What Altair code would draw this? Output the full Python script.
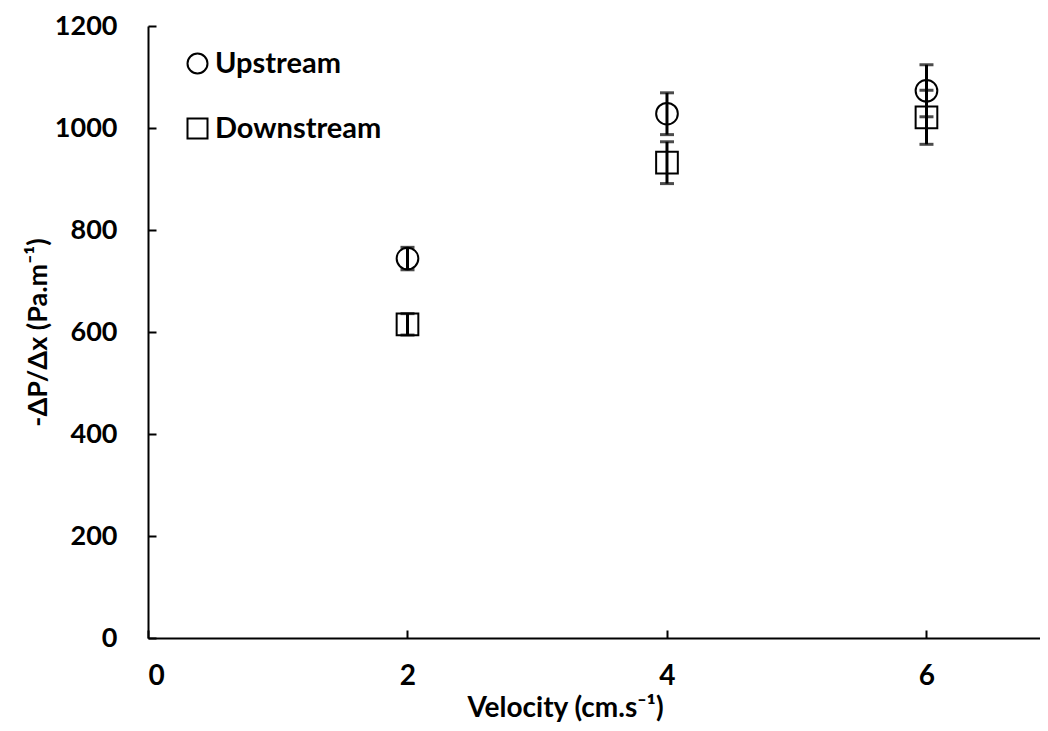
import altair as alt
import pandas as pd

velocity = [2, 4, 6]
upstream = [744, 1028, 1073]
upstream_err = [22, 41, 51]
downstream = [615, 932, 1021]
downstream_err = [21, 41, 53]
series_names = ["Upstream", "Downstream"]
x_ticks = [0, 2, 4, 6]
y_ticks = [0, 200, 400, 600, 800, 1000, 1200]

rows = []
for v, m, e in zip(velocity, upstream, upstream_err):
    rows.append({"v": v, "val": m, "lo": m - e, "hi": m + e, "series": "Upstream"})
for v, m, e in zip(velocity, downstream, downstream_err):
    rows.append({"v": v, "val": m, "lo": m - e, "hi": m + e, "series": "Downstream"})
df = pd.DataFrame(rows)

FONT = "Lato"
W, H = 892, 612
xscale = alt.Scale(domain=[0, 6.875], nice=False, zero=False)
yscale = alt.Scale(domain=[0, 1200], nice=False)

points = alt.Chart(df).mark_point(size=470, strokeWidth=2, filled=False, opacity=1).encode(
    x=alt.X("v:Q", scale=xscale,
            axis=alt.Axis(values=x_ticks, format="d", title="Velocity (cm.s⁻¹)", grid=False, ticks=False,
                          domainColor="black", domainWidth=2, labelFont=FONT, labelFontSize=28,
                          labelFontWeight="bold", labelColor="black", labelPadding=24,
                          titleFont=FONT, titleFontSize=28, titleFontWeight="bold",
                          titleColor="black", titleX=417, titleY=70, titleBaseline="middle")),
    y=alt.Y("val:Q", scale=yscale,
            axis=alt.Axis(values=y_ticks, format="d", title="-ΔP/Δx (Pa.m⁻¹)", grid=False, ticks=False,
                          domainColor="black", domainWidth=2, labelFont=FONT, labelFontSize=27,
                          labelFontWeight="bold", labelColor="black", labelPadding=31,
                          titleFont=FONT, titleFontSize=27, titleFontWeight="bold",
                          titleColor="black", titleX=-110, titleY=306, titleBaseline="middle")),
    shape=alt.Shape("series:N", scale=alt.Scale(domain=series_names, range=["circle", "square"]),
                    legend=alt.Legend(title=None, orient="none", legendX=35, legendY=23,
                                      symbolSize=400, symbolStrokeWidth=2,
                                      symbolStrokeColor="black", symbolFillColor="white",
                                      labelFont=FONT, labelFontSize=29, labelFontWeight="bold",
                                      labelColor="black", labelOffset=3, rowPadding=35,
                                      labelLimit=400, padding=0)),
    color=alt.value("black"),
)

bars = alt.Chart(df).mark_rule(strokeWidth=3, color="black").encode(
    x=alt.X("v:Q", scale=xscale, axis=None),
    y=alt.Y("lo:Q", scale=yscale, axis=None),
    y2="hi:Q",
)

caps = alt.Chart(df).transform_fold(["lo", "hi"], as_=["end", "yv"]).mark_tick(
    orient="horizontal", size=14, thickness=3, color="black"
).encode(
    x=alt.X("v:Q", scale=xscale, axis=None),
    y=alt.Y("yv:Q", scale=yscale, axis=None),
)

tickaxes = alt.Chart(df).mark_point(opacity=0).encode(
    x=alt.X("v:Q", scale=xscale,
            axis=alt.Axis(orient="top", offset=-H, values=x_ticks, labels=False, domain=False,
                          grid=False, ticks=True, tickSize=8, tickWidth=2, tickColor="black",
                          title=None)),
    y=alt.Y("val:Q", scale=yscale,
            axis=alt.Axis(orient="right", offset=-W, values=y_ticks, labels=False, domain=False,
                          grid=False, ticks=True, tickSize=8, tickWidth=2, tickColor="black",
                          title=None)),
)

chart = alt.layer(points, bars, caps, tickaxes).resolve_scale(
    x="independent", y="independent"
).properties(
    width=W, height=H,
    autosize=alt.AutoSizeParams(type="none"),
    padding={"left": 140, "top": 18, "right": 0, "bottom": 85},
    background="white",
).configure_view(stroke=None)

chart.save("out.html", embed_options={"renderer": "svg", "actions": False})
